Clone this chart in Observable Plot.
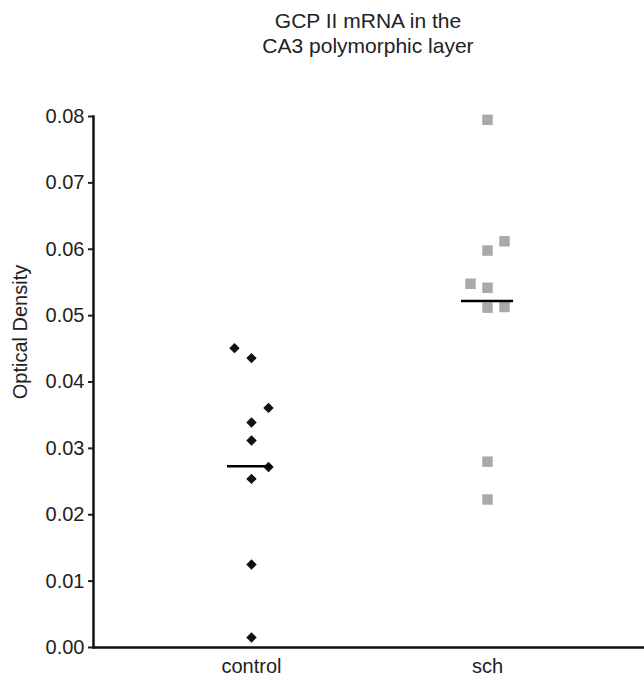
<!DOCTYPE html>
<html><head><meta charset="utf-8">
<script src="https://cdn.jsdelivr.net/npm/d3@7"></script>
<script src="https://cdn.jsdelivr.net/npm/@observablehq/plot@0.6"></script>
<style>
body{margin:0;background:#fff;font-family:"Liberation Sans",Arial,sans-serif;}
#title{width:552px;margin-left:92px;text-align:center;font-size:21px;line-height:25px;color:#222;padding-top:8px;height:70px;box-sizing:border-box}
#chart svg{display:block}
</style></head><body>
<div id="title">GCP II mRNA in the<br>CA3 polymorphic layer</div>
<div id="chart"></div>
<script>
const groups = ["control", "sch"];
const controlValues = [0.0451, 0.0436, 0.0361, 0.0339, 0.0312, 0.0272, 0.0254, 0.0125, 0.0015];
const controlCols   = [-1, 0, 1, 0, 0, 1, 0, 0, 0];
const schValues = [0.0795, 0.0612, 0.0598, 0.0548, 0.0542, 0.0512, 0.0513, 0.0280, 0.0223];
const schCols   = [0, 1, 0, -1, 0, 0, 1, 0, 0];
const groupMeans = [0.0273, 0.0522];
const yTicks = [0, 0.01, 0.02, 0.03, 0.04, 0.05, 0.06, 0.07, 0.08];
const yLabel = "Optical Density";

const points = [
  ...controlValues.map((v, i) => ({group: "control", value: v, col: controlCols[i]})),
  ...schValues.map((v, i) => ({group: "sch", value: v, col: schCols[i]}))
];
const means = groups.map((g, i) => ({group: g, value: groupMeans[i]}));

const look = {
  control: {symbol: "diamond2", fill: "#111", r: 4.7, inL: -24, inR: -20},
  sch: {symbol: "square", fill: "#a9a9a9", r: 5.9, inL: -26, inR: -26}
};
const cols = [-1, 0, 1];
const dotMarks = groups.flatMap(g => cols.map(c =>
  Plot.dot(points.filter(d => d.group === g && d.col === c), {
    x: "group", y: "value", dx: c * 17,
    symbol: look[g].symbol, fill: look[g].fill, r: look[g].r, stroke: "none"
  })));
const meanMarks = groups.map(g =>
  Plot.ruleY(means.filter(d => d.group === g), {
    x1: "group", x2: "group", y: "value", stroke: "#000", strokeWidth: 2.6,
    insetLeft: look[g].inL, insetRight: look[g].inR
  }));

const chart = Plot.plot({
  width: 644, height: 607,
  marginLeft: 93, marginRight: 0, marginTop: 46, marginBottom: 30,
  style: {fontFamily: "'Liberation Sans', Arial, sans-serif", fontSize: "20px", color: "#222", background: "#fff"},
  x: {type: "point", domain: groups, padding: 0.6625, axis: null},
  y: {domain: [0, 0.08], axis: null},
  marks: [
    Plot.axisY({ticks: yTicks, tickFormat: d3.format(".2f"), tickSize: 5, tickPadding: 4, strokeWidth: 2, fontSize: 20, label: null}),
    Plot.axisX({tickSize: 0, tickPadding: 11, fontSize: 20, label: null}),
    Plot.frame({anchor: "left", stroke: "#111", strokeWidth: 2.5}),
    Plot.ruleY([0], {stroke: "#111", strokeWidth: 2.5}),
    ...dotMarks,
    ...meanMarks,
    Plot.text([yLabel], {text: d => d, frameAnchor: "left", textAnchor: "middle", dx: -73, dy: -50, rotate: -90, fontSize: 20, fill: "#222"})
  ]
});
document.getElementById("chart").append(chart);
</script>
</body></html>
